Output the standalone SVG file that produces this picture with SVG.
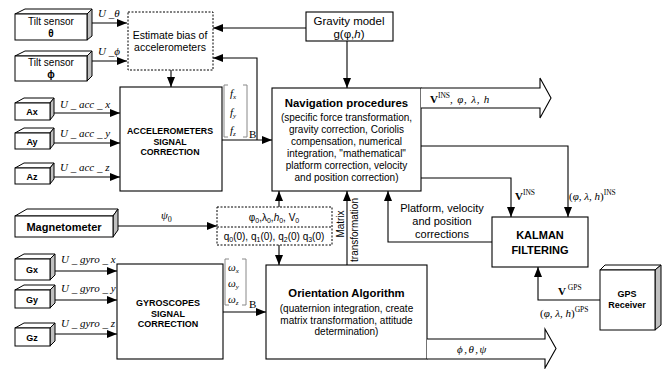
<svg xmlns="http://www.w3.org/2000/svg" width="662" height="369" viewBox="0 0 662 369">
<defs>
<marker id="a" markerWidth="10" markerHeight="8" refX="10" refY="4" orient="auto" markerUnits="userSpaceOnUse"><path d="M0,0 L10,4 L0,8 z" fill="#000"/></marker>
<style>
.f{fill:#fff;stroke:#000;stroke-width:1}
.g{fill:#c0c0c0;stroke:#000;stroke-width:1}
.b{fill:#fff;stroke:#000;stroke-width:1.1}
.d{fill:#fff;stroke:#000;stroke-width:1;stroke-dasharray:2,1.5}
.c{fill:none;stroke:#000;stroke-width:1.1;marker-end:url(#a)}
.k{fill:none;stroke:#888;stroke-width:1}
.t{font-family:"Liberation Sans",Arial,sans-serif;fill:#000;text-anchor:middle}
.h{font-weight:bold}
.m{font-family:"Liberation Serif","Times New Roman",serif;font-style:italic;fill:#000;font-size:11px}
.r{font-family:"Liberation Serif","Times New Roman",serif;font-style:normal}
</style>
</defs>
<rect width="662" height="369" fill="#fff"/>

<g id="tilt1">
<polygon class="f" points="15,14 25,9 92,9 87,14"/><polygon class="g" points="87,14 92,9 92,36 87,40"/><rect class="f" x="15" y="14" width="72" height="26"/>
<text class="t" x="51" y="25" font-size="10">Tilt sensor</text><text class="t h" x="51" y="37" font-size="10" font-family="Liberation Serif">θ</text>
</g>
<g id="tilt2">
<polygon class="f" points="15,56 25,51 92,51 87,56"/><polygon class="g" points="87,56 92,51 92,76 87,81"/><rect class="f" x="15" y="56" width="72" height="25"/>
<text class="t" x="51" y="66" font-size="10">Tilt sensor</text><text class="t h" x="51" y="78" font-size="10" font-family="Liberation Serif">ϕ</text>
</g>
<g id="ax">
<polygon class="f" points="15,103 24,98 54,98 50,103"/><polygon class="g" points="50,103 54,98 54,115 50,120"/><rect class="f" x="15" y="103" width="35" height="17"/>
<text class="t h" x="32" y="115" font-size="9">Ax</text>
</g>
<g id="ay">
<polygon class="f" points="15,133 24,128 54,128 50,133"/><polygon class="g" points="50,133 54,128 54,144 50,149"/><rect class="f" x="15" y="133" width="35" height="16"/>
<text class="t h" x="32" y="145" font-size="9">Ay</text>
</g>
<g id="az">
<polygon class="f" points="15,168 24,163 54,163 50,168"/><polygon class="g" points="50,168 54,163 54,179 50,184"/><rect class="f" x="15" y="168" width="35" height="16"/>
<text class="t h" x="32" y="180" font-size="9">Az</text>
</g>
<g id="magnetometer">
<polygon class="f" points="15,216 27,209 118,209 113,216"/><polygon class="g" points="113,216 118,209 118,230 113,237"/><rect class="f" x="15" y="216" width="98" height="21"/>
<text class="t h" x="64" y="231" font-size="11">Magnetometer</text>
</g>
<g id="gx">
<polygon class="f" points="15,259 24,254 55,254 50,259"/><polygon class="g" points="50,259 55,254 55,275 50,280"/><rect class="f" x="15" y="259" width="35" height="21"/>
<text class="t h" x="32" y="273" font-size="9">Gx</text>
</g>
<g id="gy">
<polygon class="f" points="15,290 24,285 55,285 50,290"/><polygon class="g" points="50,290 55,285 55,303 50,308"/><rect class="f" x="15" y="290" width="35" height="18"/>
<text class="t h" x="32" y="303" font-size="9">Gy</text>
</g>
<g id="gz">
<polygon class="f" points="15,328 24,323 55,323 50,328"/><polygon class="g" points="50,328 55,323 55,341 50,346"/><rect class="f" x="15" y="328" width="35" height="18"/>
<text class="t h" x="32" y="341" font-size="9">Gz</text>
</g>
<g id="gps">
<polygon class="f" points="600,270 605,265 661,265 655,270"/><polygon class="g" points="655,270 661,265 661,325 655,330"/><rect class="f" x="600" y="270" width="55" height="60"/>
<text class="t h" x="627" y="297" font-size="9">GPS</text><text class="t h" x="627" y="308" font-size="9">Receiver</text>
</g>

<g id="estimate-bias">
<rect class="d" x="128" y="12" width="85" height="58"/>
<text class="t" x="170" y="39" font-size="10.5">Estimate bias of</text>
<text class="t" x="170" y="51" font-size="10.5">accelerometers</text>
</g>
<g id="gravity-model">
<rect class="b" x="306" y="12" width="87" height="29"/>
<text class="t" x="349" y="25" font-size="11.5">Gravity model</text>
<text class="t" x="349" y="38" font-size="11.5">g(φ,<tspan font-style="italic">h</tspan>)</text>
</g>
<g id="acc-correction">
<rect class="b" x="120" y="87" width="102" height="104"/>
<text class="t h" x="170" y="134" font-size="8.8">ACCELEROMETERS</text>
<text class="t h" x="170" y="144.5" font-size="8.8">SIGNAL</text>
<text class="t h" x="170" y="155" font-size="8.8">CORRECTION</text>
</g>
<g id="navigation">
<rect class="b" x="272" y="88" width="149" height="103"/>
<path class="b" d="M421,88 H540 V78 L551,98 L540,118 V108 H421"/>
<text class="t h" x="346.5" y="107" font-size="11.4">Navigation procedures</text>
<text class="t" x="346.5" y="120.5" font-size="10">(specific force transformation,</text>
<text class="t" x="346.5" y="132.5" font-size="10">gravity correction, Coriolis</text>
<text class="t" x="346.5" y="144.5" font-size="10">compensation, numerical</text>
<text class="t" x="346.5" y="156.5" font-size="10">integration, "mathematical"</text>
<text class="t" x="346.5" y="168.5" font-size="10">platform correction, velocity</text>
<text class="t" x="346.5" y="180.5" font-size="10">and position correction)</text>
<text class="m" x="430" y="103" font-size="13"><tspan class="r" font-weight="bold">V</tspan><tspan class="r" font-size="7.5" dy="-5">INS</tspan><tspan dy="5" letter-spacing="0.8">, φ, λ, h</tspan></text>
</g>
<g id="init-values">
<rect class="d" x="217" y="207" width="115" height="38"/>
<line x1="217" y1="227" x2="332" y2="227" stroke="#000" stroke-dasharray="2,1.5"/>
<text class="t" x="274" y="221" font-size="10">φ<tspan font-size="7" dy="2">0</tspan><tspan dy="-2">,λ</tspan><tspan font-size="7" dy="2">0</tspan><tspan dy="-2">,</tspan><tspan font-style="italic">h</tspan><tspan font-size="7" dy="2">0</tspan><tspan dy="-2">, V</tspan><tspan font-size="7" dy="2">0</tspan></text>
<text class="t" x="274" y="240" font-size="10">q<tspan font-size="7" dy="2">0</tspan><tspan dy="-2">(0), q</tspan><tspan font-size="7" dy="2">1</tspan><tspan dy="-2">(0), q</tspan><tspan font-size="7" dy="2">2</tspan><tspan dy="-2">(0) q</tspan><tspan font-size="7" dy="2">3</tspan><tspan dy="-2">(0)</tspan></text>
</g>
<g id="gyro-correction">
<rect class="b" x="117" y="264" width="106" height="95"/>
<text class="t h" x="168" y="306" font-size="9">GYROSCOPES</text>
<text class="t h" x="168" y="316.5" font-size="9">SIGNAL</text>
<text class="t h" x="168" y="327" font-size="9">CORRECTION</text>
</g>
<g id="orientation">
<rect class="b" x="266" y="265" width="161" height="94"/>
<path class="b" d="M427,339 H545 V329 L556,348.5 L545,368 V359 H427"/>
<text class="t h" x="346.5" y="297" font-size="11.3">Orientation Algorithm</text>
<text class="t" x="346.5" y="311.5" font-size="10">(quaternion integration, create</text>
<text class="t" x="346.5" y="323.5" font-size="10">matrix transformation, attitude</text>
<text class="t" x="346.5" y="335" font-size="10">determination)</text>
<text class="m" x="457" y="353" font-size="13" letter-spacing="1.5">ϕ,θ,ψ</text>
</g>
<g id="kalman">
<rect class="b" x="492" y="217" width="96" height="50"/>
<text class="t h" x="540" y="239" font-size="11">KALMAN</text>
<text class="t h" x="540" y="254" font-size="11">FILTERING</text>
</g>

<g id="connectors">
<path class="c" d="M92,23 H127"/>
<path class="c" d="M92,61 H127"/>
<path class="c" d="M171,70 V87"/>
<path class="c" d="M306,28 H213"/>
<path class="c" d="M347,41 V88"/>
<path class="c" d="M222,140 H272"/>
<path class="c" d="M257,140 V58 H213"/>
<path class="c" d="M54,113 H120"/>
<path class="c" d="M54,143 H120"/>
<path class="c" d="M54,177 H120"/>
<path class="c" d="M118,226 H217"/>
<path class="c" d="M279,207 V191"/>
<path class="c" d="M279,245 V265"/>
<path class="c" d="M347,265 V191"/>
<path class="c" d="M55,271 H117"/>
<path class="c" d="M55,300 H117"/>
<path class="c" d="M55,334 H117"/>
<path class="c" d="M223,312 H266"/>
<path class="c" d="M421,146 H568 V217"/>
<path class="c" d="M421,178 H511 V217"/>
<path class="c" d="M492,242 H388 V191"/>
<path class="c" d="M600,300 H538 V267"/>
<path class="k" d="M228,85 H224 V137 H228 M243,85 H247 V137 H243"/>
<path class="k" d="M229,259 H225 V305 H229 M242,259 H246 V305 H242"/>
</g>

<g id="labels">
<text class="m" x="98" y="17">U _θ</text>
<text class="m" x="98" y="55">U _ϕ</text>
<text class="m" x="60" y="108">U _ acc _ x</text>
<text class="m" x="60" y="137">U _ acc _ y</text>
<text class="m" x="60" y="171">U _ acc _ z</text>
<text class="m" x="61" y="263">U _ gyro _ x</text>
<text class="m" x="61" y="292">U _ gyro _ y</text>
<text class="m" x="61" y="327">U _ gyro _ z</text>
<text class="m" x="161" y="219" font-size="13">ψ<tspan class="r" font-size="8" dy="3">0</tspan></text>
<text class="m" x="230" y="97" font-size="11">f<tspan font-size="7" dy="2">x</tspan></text>
<text class="m" x="230" y="116" font-size="11">f<tspan font-size="7" dy="2">y</tspan></text>
<text class="m" x="230" y="134" font-size="11">f<tspan font-size="7" dy="2">z</tspan></text>
<text class="m r" x="249" y="138" font-size="7">B</text>
<text class="m" x="228" y="271" font-size="11">ω<tspan font-size="7" dy="2">x</tspan></text>
<text class="m" x="228" y="287" font-size="11">ω<tspan font-size="7" dy="2">y</tspan></text>
<text class="m" x="228" y="303" font-size="11">ω<tspan font-size="7" dy="2">z</tspan></text>
<text class="m r" x="249" y="308" font-size="7">B</text>
<text class="t" transform="translate(344,224) rotate(-90)" font-size="10">Matrix</text>
<text class="t" transform="translate(358,230) rotate(-90)" font-size="10">transformation</text>
<text class="t" x="442" y="212" font-size="11">Platform, velocity</text>
<text class="t" x="442" y="225" font-size="11">and position</text>
<text class="t" x="442" y="238" font-size="11">corrections</text>
<text class="m" x="515" y="200" font-size="13"><tspan class="r" font-weight="bold">V</tspan><tspan class="r" font-size="7.5" dy="-5">INS</tspan></text>
<text class="m" x="569" y="200" font-size="13"><tspan class="r">(</tspan>φ, λ, h<tspan class="r">)</tspan><tspan class="r" font-size="7.5" dy="-5">INS</tspan></text>
<text class="m" x="558" y="295" font-size="13"><tspan class="r" font-weight="bold">V</tspan><tspan class="r" font-size="7.5" dy="-5"> GPS</tspan></text>
<text class="m" x="540" y="317" font-size="13"><tspan class="r">(</tspan>φ, λ, h<tspan class="r">)</tspan><tspan class="r" font-size="7.5" dy="-5">GPS</tspan></text>
</g>
</svg>
